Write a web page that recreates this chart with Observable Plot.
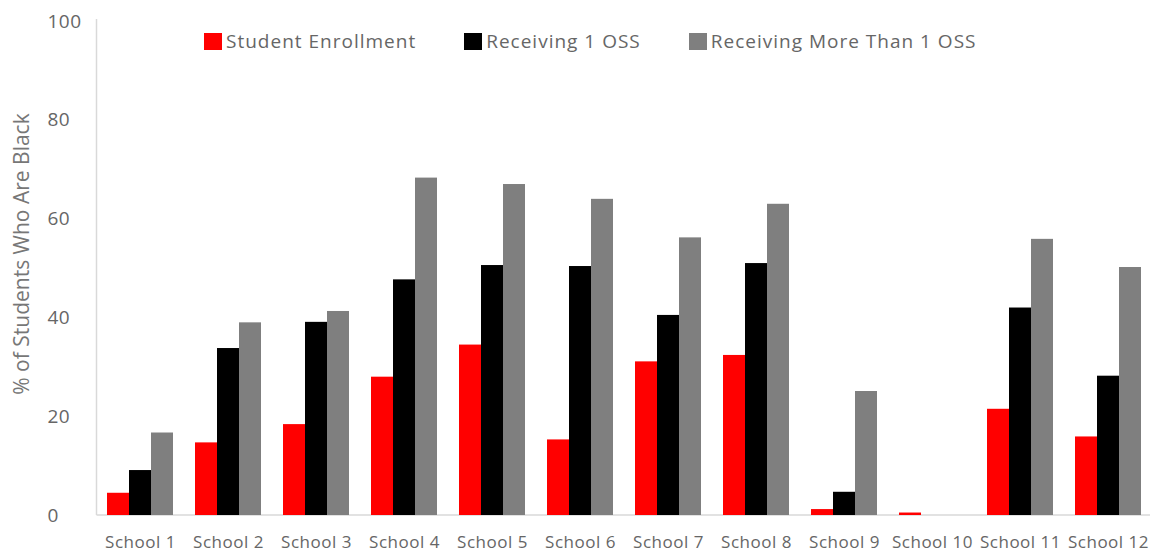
<!DOCTYPE html>
<html>
<head>
<meta charset="utf-8">
<script src="https://cdn.jsdelivr.net/npm/d3@7"></script>
<script src="https://cdn.jsdelivr.net/npm/@observablehq/plot@0.6"></script>
<style>
  html, body { margin: 0; padding: 0; background: #fff; }
  #wrap { position: relative; width: 1154px; height: 552px; font-family: "Open Sans", sans-serif; }
  #legend { position: absolute; left: 204px; top: 28px; display: flex; gap: 48px; font-size: 19px; color: #666; letter-spacing: 1px; }
  #legend .item { display: flex; align-items: center; }
  #legend .sw { width: 18px; height: 17px; margin-right: 4px; }
  #ytitle { position: absolute; left: 21px; top: 254px; transform: translate(-50%, -50%) rotate(-90deg);
            white-space: nowrap; font-size: 21px; color: #777; }
</style>
</head>
<body>
<div id="wrap">
  <div id="chart"></div>
  <div id="legend"></div>
  <div id="ytitle">% of Students Who Are Black</div>
</div>
<script>
// Schools and series shown in the grouped bar chart
const schools = ["School 1", "School 2", "School 3", "School 4", "School 5", "School 6",
                 "School 7", "School 8", "School 9", "School 10", "School 11", "School 12"];
const series = ["Student Enrollment", "Receiving 1 OSS", "Receiving More Than 1 OSS"];
const colors = ["#ff0000", "#000000", "#7f7f7f"];

// Percent of students who are Black, per school
const enrollment = [4.5, 14.7, 18.4, 28.0, 34.5, 15.3, 31.1, 32.4, 1.2, 0.5, 21.5, 15.9];
const oneOss     = [9.1, 33.8, 39.1, 47.7, 50.6, 50.4, 40.5, 51.0, 4.7, 0, 42.0, 28.2];
const moreOss    = [16.7, 39.0, 41.3, 68.3, 67.0, 64.0, 56.2, 63.0, 25.1, 0, 55.9, 50.2];

const yTicks = [0, 20, 40, 60, 80, 100];

const values = [enrollment, oneOss, moreOss];
const rows = schools.flatMap((school, i) =>
  series.map((s, j) => ({school, series: s, value: values[j][i]})));

const chart = Plot.plot({
  width: 1154,
  height: 552,
  marginLeft: 96,
  marginRight: 2,
  marginTop: 21,
  marginBottom: 37,
  style: {fontFamily: "Open Sans, sans-serif", color: "#666", background: "transparent", letterSpacing: "0.5px"},
  fx: {domain: schools, paddingInner: 0.25, paddingOuter: 0.125, round: false, label: null},
  x: {domain: series, padding: 0, round: false, axis: null},
  y: {domain: [0, 100], axis: null},
  color: {domain: series, range: colors},
  marks: [
    Plot.barY(rows, {fx: "school", x: "series", y: "value", fill: "series", insetLeft: 0, insetRight: 0}),
    Plot.axisFx({anchor: "bottom", tickSize: 0, tickPadding: 20, fontSize: 17, label: null}),
    Plot.axisY({ticks: yTicks, tickSize: 0, tickPadding: 60, textAnchor: "start", fontSize: 19, label: null})
  ]
});
document.getElementById("chart").appendChild(chart);

// Axis lines: vertical at the left edge of the plot area, horizontal at zero
const ys = chart.scale("y");
const yPos = d3.scaleLinear(ys.domain, ys.range);
const svg = d3.select(chart);
const g = svg.insert("g", ":first-child").attr("stroke", "#d9d9d9").attr("stroke-width", 1.5);
const left = 96.5, right = 1150;
g.append("line").attr("x1", left).attr("x2", left).attr("y1", yPos(100) - 2).attr("y2", yPos(0));
g.append("line").attr("x1", left).attr("x2", right).attr("y1", yPos(0)).attr("y2", yPos(0));

// Legend
const legend = d3.select("#legend");
series.forEach((s, i) => {
  const item = legend.append("div").attr("class", "item");
  item.append("div").attr("class", "sw").style("background", colors[i]);
  item.append("span").text(s);
});
</script>
</body>
</html>
